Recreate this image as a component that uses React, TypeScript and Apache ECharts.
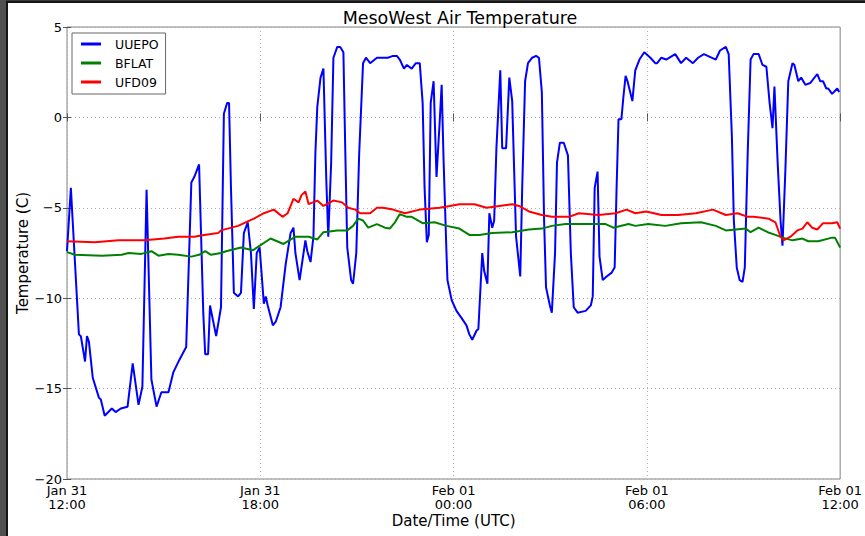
import React, { useEffect, useRef } from "react";
import * as echarts from "echarts";

const seriesNames = ["UUEPO", "BFLAT", "UFD09"];
const seriesColors = ["#0000ff", "#008000", "#ff0000"];
const xTickLabels = ["Jan 31\n12:00", "Jan 31\n18:00", "Feb 01\n00:00", "Feb 01\n06:00", "Feb 01\n12:00"];
const yTicks = [5, 0, -5, -10, -15, -20];

// hours after Jan 31 12:00 UTC
const uuepoHours = [
  0, 0.12, 0.37, 0.43, 0.56, 0.62, 0.68, 0.8, 0.99, 1.05, 1.17, 1.39, 1.51, 1.67, 1.88, 2.04, 2.22, 2.34, 2.47, 2.62,
  2.78, 2.93, 3.15, 3.3, 3.49, 3.7, 3.86, 3.95, 4.1, 4.23, 4.29, 4.38, 4.44, 4.63, 4.78, 4.87, 4.97, 5.03, 5.09, 5.18,
  5.31, 5.4, 5.49, 5.61, 5.71, 5.8, 5.89, 5.98, 6.11, 6.17, 6.23, 6.39, 6.48, 6.63, 6.79, 6.94, 7.03, 7.09, 7.22, 7.31,
  7.4, 7.46, 7.56, 7.65, 7.71, 7.77, 7.87, 7.96, 8.05, 8.11, 8.2, 8.27, 8.39, 8.48, 8.58, 8.64, 8.7, 8.82, 8.88, 8.98,
  9.07, 9.19, 9.28, 9.41, 9.62, 9.87, 9.96, 10.12, 10.24, 10.33, 10.46, 10.55, 10.7, 10.83, 10.95, 11.04, 11.1, 11.17, 11.23, 11.29,
  11.38, 11.47, 11.57, 11.63, 11.69, 11.78, 11.81, 11.94, 12.09, 12.25, 12.4, 12.49, 12.58, 12.71, 12.77, 12.89, 12.95, 13.05, 13.11, 13.2,
  13.26, 13.33, 13.45, 13.51, 13.63, 13.73, 13.82, 13.88, 13.94, 14.07, 14.13, 14.22, 14.31, 14.44, 14.56, 14.65, 14.74, 14.81, 14.87, 14.99,
  15.05, 15.15, 15.21, 15.3, 15.42, 15.55, 15.64, 15.73, 15.85, 16.1, 16.26, 16.32, 16.38, 16.47, 16.53, 16.63, 16.75, 16.9, 17.0, 17.06,
  17.12, 17.21, 17.27, 17.34, 17.4, 17.55, 17.64, 17.77, 17.92, 18.11, 18.26, 18.32, 18.45, 18.6, 18.88, 19.06, 19.22, 19.43, 19.59, 19.77,
  20.14, 20.27, 20.45, 20.54, 20.64, 20.7, 20.79, 20.88, 20.97, 21.04, 21.13, 21.22, 21.31, 21.47, 21.59, 21.71, 21.81, 21.9, 21.96, 22.06,
  22.15, 22.21, 22.3, 22.39, 22.52, 22.58, 22.7, 22.79, 22.92, 23.07, 23.29, 23.38, 23.47, 23.57, 23.63, 23.75, 23.91, 23.97
];
const uuepoTemps = [
  -7.4, -3.9, -12.0, -12.1, -13.5, -12.1, -12.4, -14.4, -15.5, -15.6, -16.5, -16.1, -16.3, -16.1, -16.0, -13.6, -15.9, -14.9, -4.0, -14.5,
  -16.0, -15.2, -15.2, -14.1, -13.4, -12.7, -3.6, -3.3, -2.6, -10.8, -13.1, -13.1, -10.4, -12.1, -10.5, 0.2, 0.8, 0.8, -3.9, -9.7,
  -9.9, -9.7, -6.4, -5.8, -7.5, -10.6, -7.5, -7.2, -10.3, -9.9, -10.4, -11.5, -11.3, -10.5, -8.1, -6.4, -6.1, -7.5, -9.0, -7.9,
  -6.8, -7.4, -8.0, -6.6, -2.0, 0.6, 2.2, 2.7, -3.5, -6.6, -2.5, 3.3, 3.9, 3.9, 3.6, -2.0, -7.2, -9.0, -9.2, -7.5,
  -2.0, 3.0, 3.3, 3.0, 3.3, 3.3, 3.3, 3.4, 3.4, 3.2, 2.7, 2.9, 2.7, 3.0, 3.0, 0.8, -3.9, -6.9, -6.5, 0.8,
  2.0, -3.3, -0.2, 1.8, -2.4, -7.5, -9.0, -10.1, -10.7, -11.1, -11.5, -12.0, -12.3, -11.8, -11.7, -7.5, -8.5, -9.2, -5.3, -6.1,
  -5.7, -1.7, 2.6, -1.7, -1.7, 2.2, 0.9, -2.9, -6.6, -8.8, -3.9, 2.0, 3.0, 3.3, 3.4, 3.3, 1.4, -5.7, -9.4, -10.4,
  -10.8, -7.5, -2.5, -1.4, -1.4, -2.1, -7.5, -10.5, -10.8, -10.7, -10.4, -9.9, -3.9, -3.0, -7.7, -9.0, -8.8, -8.6, -8.3, -3.9,
  -0.1, -0.1, 1.1, 2.3, 2.0, 0.9, 2.6, 3.2, 3.6, 3.3, 3.0, 3.0, 3.3, 3.2, 3.5, 3.0, 3.3, 3.0, 3.3, 3.5,
  3.2, 3.7, 3.9, 3.5, -1.1, -5.7, -8.3, -9.0, -9.1, -8.3, -2.0, 3.2, 3.5, 3.5, 2.9, 2.8, 0.8, -0.6, 1.7, -2.5,
  -5.7, -7.1, -2.9, 2.0, 3.0, 2.9, 2.0, 2.2, 1.8, 1.9, 2.4, 2.0, 2.0, 1.6, 1.6, 1.3, 1.6, 1.4
];

const bflatHours = [
  0, 0.25, 1.08, 1.7, 1.91, 2.31, 2.62, 2.84, 3.15, 3.45, 3.86, 4.1, 4.29, 4.47, 4.78, 4.94, 5.4, 5.77, 6.32, 6.72,
  7.09, 7.5, 7.77, 7.96, 8.39, 8.7, 8.88, 9.04, 9.19, 9.35, 9.62, 9.87, 10.02, 10.18, 10.33, 10.55, 10.7, 11.04, 11.41, 11.78,
  12.18, 12.49, 12.8, 13.2, 13.82, 14.34, 14.74, 15.05, 15.48, 16.19, 16.72, 16.96, 17.43, 17.64, 18.04, 18.57, 19.06, 19.68, 20.14, 20.45,
  20.76, 21.07, 21.22, 21.47, 21.75, 21.99, 22.21, 22.52, 22.83, 23.01, 23.32, 23.75, 23.84, 24.0
];
const bflatTemps = [
  -7.45, -7.6, -7.65, -7.6, -7.5, -7.55, -7.4, -7.65, -7.55, -7.6, -7.7, -7.6, -7.4, -7.6, -7.5, -7.4, -7.2, -7.35, -6.7, -7.0,
  -6.6, -6.6, -6.75, -6.35, -6.25, -6.25, -6.0, -5.6, -5.7, -6.1, -5.9, -6.1, -6.15, -5.8, -5.35, -5.5, -5.5, -5.85, -5.8, -6.0,
  -6.15, -6.5, -6.5, -6.4, -6.35, -6.2, -6.15, -6.0, -5.9, -5.9, -5.9, -6.1, -5.9, -6.0, -5.9, -6.0, -5.85, -5.8, -6.0, -6.25,
  -6.2, -6.15, -6.35, -6.1, -6.35, -6.5, -6.65, -6.8, -6.7, -6.85, -6.85, -6.65, -6.65, -7.2
];

const ufd09Hours = [
  0, 0.86, 1.6, 2.41, 3.02, 3.45, 3.95, 4.26, 4.69, 4.78, 5.31, 5.8, 6.11, 6.42, 6.69, 6.85, 7.03, 7.19, 7.28, 7.4,
  7.5, 7.77, 7.96, 8.27, 8.54, 8.73, 8.95, 9.1, 9.41, 9.62, 9.81, 10.12, 10.49, 10.95, 11.57, 11.88, 12.18, 12.65, 13.02, 13.42,
  13.82, 14.03, 14.34, 14.74, 15.05, 15.58, 15.89, 16.5, 17.03, 17.37, 17.64, 17.98, 18.45, 18.97, 19.52, 20.05, 20.45, 20.82, 21.13, 21.31,
  21.78, 21.99, 22.15, 22.24, 22.46, 22.67, 22.83, 22.98, 23.13, 23.29, 23.47, 23.75, 23.91, 24.0
];
const ufd09Temps = [
  -6.85, -6.9, -6.8, -6.8, -6.7, -6.6, -6.6, -6.5, -6.4, -6.25, -6.0, -5.6, -5.3, -5.1, -5.5, -5.3, -4.5, -4.7, -4.3, -4.1,
  -4.8, -4.6, -4.9, -4.6, -4.7, -5.0, -5.1, -5.3, -5.3, -5.0, -5.0, -5.1, -5.3, -5.1, -5.0, -4.9, -4.8, -4.8, -5.0, -4.9,
  -4.8, -4.9, -5.2, -5.4, -5.5, -5.5, -5.3, -5.4, -5.3, -5.1, -5.3, -5.2, -5.4, -5.4, -5.3, -5.1, -5.4, -5.3, -5.5, -5.5,
  -5.6, -5.8, -6.6, -6.8, -6.6, -6.25, -6.15, -5.8, -6.1, -6.2, -5.85, -5.85, -5.8, -6.15
];

const pair = (hs: number[], vs: number[]) => hs.map((h, i) => [h, vs[i]]);

export default function App() {
  const ref = useRef<HTMLDivElement>(null);
  useEffect(() => {
    if (!ref.current) return;
    const chart = echarts.init(ref.current, null, { renderer: "svg" });
    const font = "DejaVu Sans";
    const fmtY = (v: number) => (v < 0 ? "\u2212" + Math.abs(v) : String(v));
    const allData = [pair(uuepoHours, uuepoTemps), pair(bflatHours, bflatTemps), pair(ufd09Hours, ufd09Temps)];
    chart.setOption({
      animation: false,
      backgroundColor: "#ffffff",
      title: {
        text: "MesoWest Air Temperature",
        left: 455,
        textAlign: "center",
        top: 4,
        textStyle: { fontFamily: font, fontSize: 17.5, fontWeight: "normal", color: "#000" },
      },
      legend: {
        data: seriesNames,
        orient: "vertical",
        left: 72,
        top: 33,
        icon: "rect",
        itemWidth: 20,
        itemHeight: 3,
        itemGap: 5,
        padding: [4, 7, 5, 9],
        borderColor: "#666",
        borderWidth: 1,
        backgroundColor: "#fff",
        textStyle: { fontFamily: font, fontSize: 12.5, color: "#000", lineHeight: 14, padding: [0, 0, 0, 9] },
      },
      grid: {
        left: 67,
        right: 20,
        top: 27,
        bottom: 57,
        show: true,
        borderColor: "#808080",
        borderWidth: 1,
        backgroundColor: "#fff",
      },
      xAxis: [
        {
          type: "value",
          min: 0,
          max: 24,
          interval: 6,
          name: "Date/Time (UTC)",
          nameLocation: "middle",
          nameGap: 34,
          nameMoveOverlap: false,
          nameTextStyle: { fontFamily: font, fontSize: 15, color: "#000" },
          axisLine: { show: false },
          axisTick: { show: true, inside: true, length: 4, lineStyle: { color: "#555" } },
          axisLabel: {
            fontFamily: font,
            fontSize: 13,
            color: "#000",
            lineHeight: 14,
            margin: 4,
            formatter: (v: number) => xTickLabels[Math.round(v / 6)] ?? "",
          },
          splitLine: { show: true, lineStyle: { type: [1, 3], color: "#b0b0b0", width: 1 } },
        },
        {
          type: "value",
          position: "top",
          min: 0,
          max: 24,
          interval: 6,
          axisLine: { show: false },
          axisTick: { show: true, inside: true, length: 4, lineStyle: { color: "#555" } },
          axisLabel: { show: false },
          splitLine: { show: false },
        },
      ],
      yAxis: [
        {
          type: "value",
          min: -20,
          max: 5,
          interval: 5,
          name: "Temperature (C)",
          nameLocation: "middle",
          nameGap: 37,
          nameMoveOverlap: false,
          nameRotate: 90,
          nameTextStyle: { fontFamily: font, fontSize: 15, color: "#000" },
          axisLine: { show: false },
          axisTick: { show: true, inside: true, length: 4, lineStyle: { color: "#555" } },
          axisLabel: { fontFamily: font, fontSize: 13, color: "#000", margin: 5, formatter: fmtY },
          splitLine: { show: true, lineStyle: { type: [1, 3], color: "#b0b0b0", width: 1 } },
        },
        {
          type: "value",
          position: "right",
          min: -20,
          max: 5,
          interval: 5,
          axisLine: { show: false },
          axisTick: { show: true, inside: true, length: 4, lineStyle: { color: "#555" } },
          axisLabel: { show: false },
          splitLine: { show: false },
        },
      ],
      series: seriesNames.map((name, i) => ({
        name,
        type: "line",
        xAxisIndex: 0,
        yAxisIndex: 0,
        data: allData[i],
        showSymbol: false,
        symbol: "none",
        lineStyle: { color: seriesColors[i], width: 2 },
        itemStyle: { color: seriesColors[i] },
        z: 2 + i,
      })),
      graphic: [
        { type: "rect", shape: { x: 0, y: 0, width: 865, height: 3 }, style: { fill: "#3a3a3a" }, z: 100 },
        { type: "rect", shape: { x: 0, y: 0, width: 6, height: 536 }, style: { fill: "#505050" }, z: 100 },
        { type: "rect", shape: { x: 6, y: 1, width: 2, height: 535 }, style: { fill: "#151515" }, z: 100 },
        { type: "rect", shape: { x: 6, y: 1, width: 859, height: 2 }, style: { fill: "#151515" }, z: 100 },
      ],
    });
    return () => chart.dispose();
  }, []);
  return (
    <div
      ref={ref}
      style={{ position: "absolute", left: 0, top: 0, width: 865, height: 536, background: "#fff" }}
    />
  );
}
